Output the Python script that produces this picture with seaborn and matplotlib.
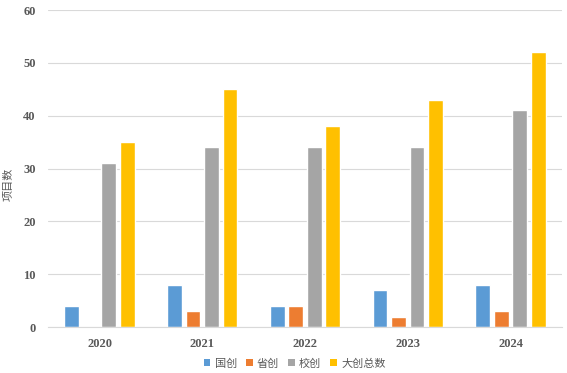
import pandas as pd
import matplotlib
matplotlib.use("Agg")
import matplotlib.pyplot as plt
from matplotlib.patches import Patch
import seaborn as sns

# 数据
years = ['2020', '2021', '2022', '2023', '2024']
series = ['国创', '省创', '校创', '大创总数']
guochuang = [4, 8, 4, 7, 8]
shengchuang = [0, 3, 4, 2, 3]
xiaochuang = [31, 34, 34, 34, 41]
total = [35, 45, 38, 43, 52]
colors = ['#5B9BD5', '#ED7D31', '#A5A5A5', '#FFC000']

df = pd.DataFrame({
    '年份': years * 4,
    '类型': [s for s in series for _ in years],
    '项目数': guochuang + shengchuang + xiaochuang + total,
})

sns.set_style('white')
plt.rcParams['font.family'] = ['Liberation Serif', 'Noto Sans CJK SC', 'DejaVu Sans']

fig = plt.figure(figsize=(5.67, 3.73), dpi=100)
ax = fig.add_axes([0.085, 0.123, 0.906, 0.850])

sns.barplot(data=df, x='年份', y='项目数', hue='类型', palette=colors,
            saturation=1, width=0.72, gap=0.2, ax=ax, legend=False)

ax.set_ylim(0, 60)
ax.set_yticks(range(0, 61, 10))
ax.yaxis.grid(True, color='#D9D9D9', linewidth=0.8)
ax.set_axisbelow(True)
for s in ['top', 'right', 'left']:
    ax.spines[s].set_visible(False)
ax.spines['bottom'].set_color('#D9D9D9')
ax.tick_params(axis='both', length=0, colors='#595959', labelsize=9)
for lab in ax.get_xticklabels() + ax.get_yticklabels():
    lab.set_fontweight('bold')
ax.tick_params(axis='x', pad=8)
ax.tick_params(axis='y', pad=9)
ax.set_xlabel('')
ax.set_ylabel('项目数', fontsize=8, color='#595959',
              family=['Noto Sans CJK SC', 'DejaVu Sans'])
ax.yaxis.set_label_coords(-0.068, 0.45)

handles = [Patch(facecolor=c, edgecolor='none') for c in colors]
ax.legend(handles, series, loc='center', bbox_to_anchor=(0.48, -0.115),
          ncol=4, frameon=False, handlelength=0.6, handleheight=0.6,
          handletextpad=0.4, columnspacing=0.8,
          prop={'family': ['Noto Sans CJK SC', 'DejaVu Sans'], 'size': 8},
          labelcolor='#595959')

fig.savefig('out.png', dpi=100)
